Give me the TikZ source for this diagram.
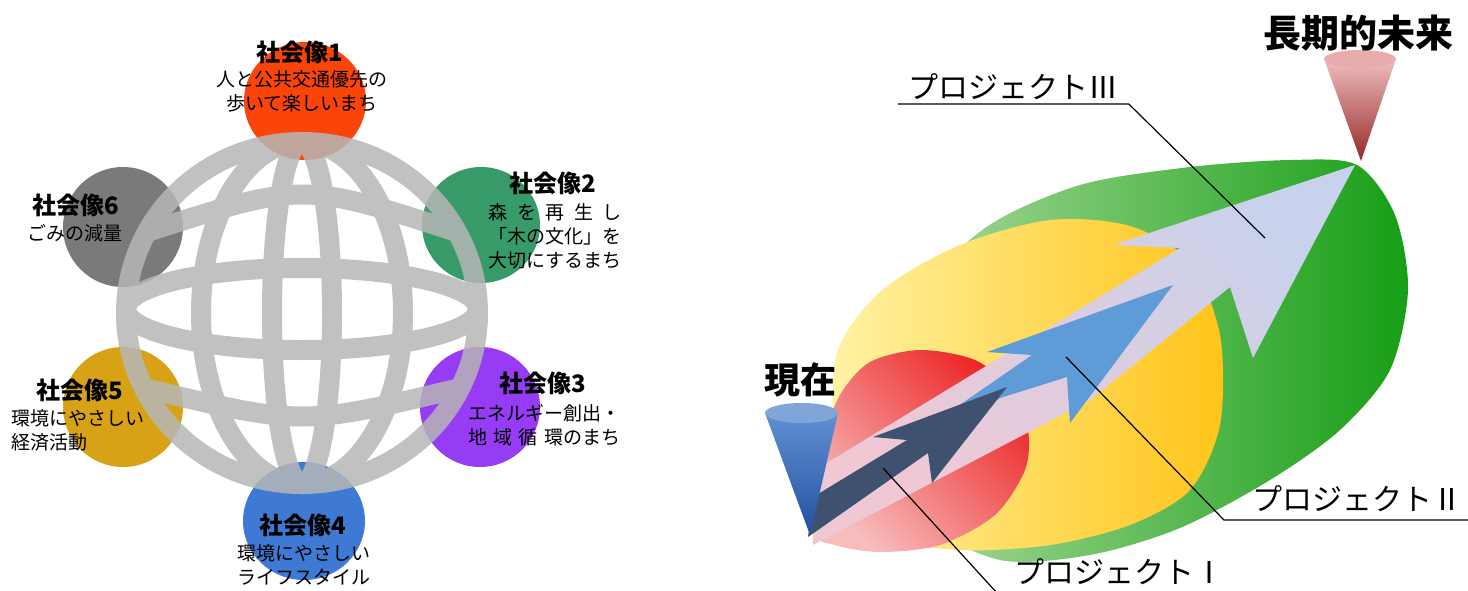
\documentclass[tikz,border=0pt]{standalone}
\usepackage{fontspec}
\newfontfamily\jpfont{Noto Sans CJK JP}

\definecolor{globegray}{RGB}{182,182,182}
\definecolor{soc1}{RGB}{250,68,10}
\definecolor{soc2}{RGB}{55,155,105}
\definecolor{soc3}{RGB}{150,60,245}
\definecolor{soc4}{RGB}{62,122,212}
\definecolor{soc5}{RGB}{215,162,22}
\definecolor{soc6}{RGB}{122,122,122}
\definecolor{greenL}{RGB}{170,218,155}
\definecolor{greenD}{RGB}{22,158,22}
\definecolor{yellowL}{RGB}{255,243,165}
\definecolor{yellowD}{RGB}{255,196,25}
\definecolor{redL}{RGB}{248,188,188}
\definecolor{redD}{RGB}{236,36,36}
\definecolor{projA}{RGB}{62,82,112}
\definecolor{projB}{RGB}{95,155,215}
\definecolor{projCL}{RGB}{240,200,212}
\definecolor{projC}{RGB}{200,210,236}
\definecolor{nowL}{RGB}{95,145,210}
\definecolor{nowD}{RGB}{35,80,160}
\definecolor{nowT}{RGB}{130,165,215}
\definecolor{futL}{RGB}{238,190,190}
\definecolor{futD}{RGB}{150,40,40}
\definecolor{futT}{RGB}{232,172,172}

\begin{document}
\begin{tikzpicture}[x=0.5pt,y=-0.5pt,
  band/.style={draw=globegray, line width=10pt},
  title/.style={font=\jpfont\bfseries\fontsize{12}{14}\selectfont, inner sep=0pt},
  body/.style={font=\jpfont\fontsize{9.5}{12}\selectfont, inner sep=0pt, align=center},
  plabel/.style={font=\jpfont\fontsize{15}{18}\selectfont, inner xsep=5pt, inner ysep=2pt, anchor=south west},
  leader/.style={draw=black, line width=0.6pt}]
\useasboundingbox (0,0) rectangle (1468,590);

% six circles round the globe
\fill[soc1] (305,101) ellipse [x radius=61, y radius=59];
\fill[soc2] (481,225) ellipse [x radius=59, y radius=58];
\fill[soc3] (480,407) ellipse [x radius=60, y radius=60];
\fill[soc4] (304,521) ellipse [x radius=61, y radius=59];
\fill[soc5] (123,407) ellipse [x radius=60, y radius=60];
\fill[soc6] (123,227) ellipse [x radius=60, y radius=60];

% globe
\begin{scope}[transparency group, opacity=0.85]
\draw[band] (302,313) ellipse [x radius=176, y radius=171];
\draw[band] (302,313) ellipse [x radius=101, y radius=171];
\draw[band] (302,313) ellipse [x radius=30, y radius=171];
\draw[band] (302,309) ellipse [x radius=176, y radius=41];
\draw[band] (147,232) .. controls (302,182) .. (457,232);
\draw[band] (144,388) .. controls (302,426) .. (460,388);
\end{scope}

\node[title] (t1) at (300,52) {社会像1};
\node[body] (b1) at (302,91) {人と公共交通優先の\\歩いて楽しいまち};
\node[title] (t2) at (553,183) {社会像2};
\node[body] (b2) at (555,236) {\makebox[66.5pt][s]{森 を 再 生 し}\\「木の文化」を\\大切にするまち};
\node[title] (t3) at (543,383) {社会像3};
\node[body] (b3) at (544,425) {エネルギー創出・\\\makebox[76pt][s]{地 域 循 環のまち}};
\node[title] (t4) at (303,525) {社会像4};
\node[body] (b4) at (304,565) {環境にやさしい\\ライフスタイル};
\node[title] (t5) at (80,390) {社会像5};
\node[body, align=left, anchor=west] (b5) at (11,430) {環境にやさしい\\経済活動};
\node[title] (t6) at (76,205) {社会像6};
\node[body] (b6) at (75,233) {ごみの減量};

% nested fields, widest first
\shade[left color=greenL, right color=greenD]
  plot[smooth cycle] coordinates {(920,300) (985,228) (1080,185) (1190,167) (1290,160)
  (1357,165) (1395,215) (1408,290) (1390,370) (1340,430) (1270,480) (1180,528)
  (1090,555) (1000,560) (930,520) (905,420)};
\shade[left color=yellowL, right color=yellowD]
  plot[smooth cycle] coordinates {(835,360) (880,292) (960,245) (1050,220) (1130,226)
  (1190,262) (1220,335) (1220,425) (1190,490) (1130,525) (1050,545) (960,550)
  (880,535) (840,480)};
\shade[bottom color=redL, top color=redD, shading angle=-45]
  plot[smooth cycle] coordinates {(815,530) (825,440) (840,395) (870,362) (920,350)
  (975,360) (1012,390) (1028,430) (1025,470) (995,515) (940,545) (880,552) (835,545)};

% project arrows
\shade[bottom color=projCL, top color=projC, shading angle=-45]
  (812,472) -- (1180,248) -- (1113,245) -- (1355,165) -- (1253,358) -- (1230,287)
  -- (1090,400) -- (813,545) -- cycle;
\fill[projB] (815,505) -- (1032,355) -- (987,352) -- (1173,285) -- (1070,423)
  -- (1067,377) -- (1000,398) -- (815,510) -- cycle;
\fill[projA] (813,497) -- (907,440) -- (873,437) -- (1007,387) -- (932,483)
  -- (928,453) -- (808,537) -- cycle;

% cones
\shade[top color=nowL, bottom color=nowD] (765,413) -- (810,535) -- (838,413) -- cycle;
\fill[nowT] (801.5,413) ellipse [x radius=36.5, y radius=10];
\shade[top color=futL, bottom color=futD] (1324,59) -- (1361,161) -- (1396,59) -- cycle;
\fill[futT] (1360,59) ellipse [x radius=36, y radius=9];

\node[font=\jpfont\bfseries\fontsize{18}{20}\selectfont, inner sep=0pt] (now) at (800,380) {現在};
\node[font=\jpfont\bfseries\fontsize{19}{21}\selectfont, inner sep=0pt] (future) at (1358,33) {長期的未来};

% leaders
\coordinate (a3) at (1265,238);
\coordinate (a2) at (1066,357);
\coordinate (a1) at (883,468);
\node[plabel] (p3) at (898,104) {プロジェクトⅢ};
\node[plabel, inner xsep=14pt, inner ysep=4pt] (p2) at (1224,520) {プロジェクトⅡ};
\node[plabel, inner xsep=8.5pt, inner ysep=4pt] (p1) at (997,593) {プロジェクトⅠ};
\draw[leader] (a3) -- (p3.south east) -- (p3.south west);
\draw[leader] (a2) -- (p2.south west) -- (p2.south east);
\draw[leader] (a1) -- (p1.south west) -- (p1.south east);
\end{tikzpicture}
\end{document}
